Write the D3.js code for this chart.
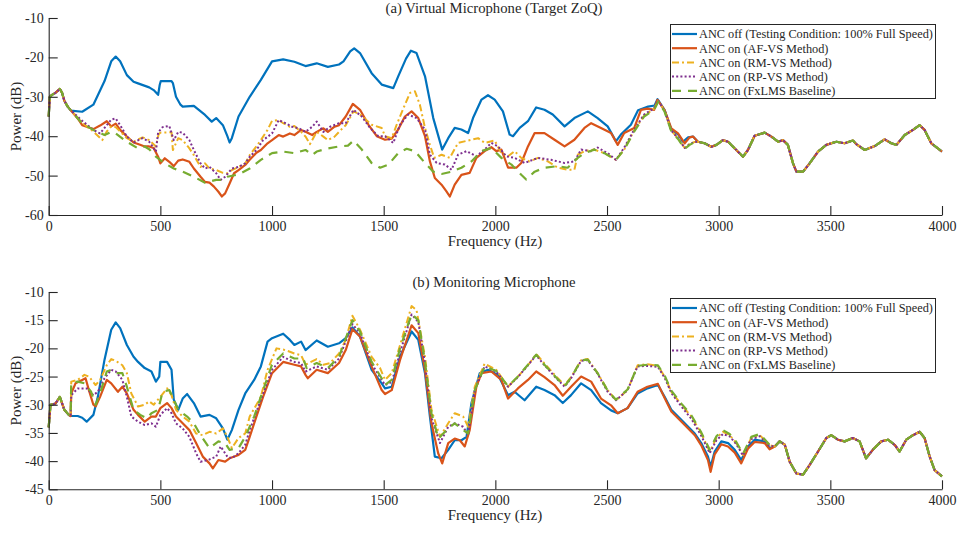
<!DOCTYPE html>
<html><head><meta charset="utf-8">
<script src="https://cdn.jsdelivr.net/npm/d3@7"></script>
<style>body{margin:0;background:#fff}svg{display:block}text{font-family:"Liberation Serif","Times New Roman",serif;fill:#262626}</style>
</head><body><svg id="c" width="958" height="533"></svg>
<script>
const seriesNames = ["ANC off (Testing Condition: 100% Full Speed)","ANC on (AF-VS Method)","ANC on (RM-VS Method)","ANC on (RP-VS Method)","ANC on (FxLMS Baseline)"];
const xTicks = [0,500,1000,1500,2000,2500,3000,3500,4000];
const yTicksTop = [-60,-50,-40,-30,-20,-10];
const yTicksBot = [-45,-40,-35,-30,-25,-20,-15,-10];
const titles = ["(a) Virtual Microphone (Target ZoQ)","(b) Monitoring Microphone"];

// shared low-frequency start
const head = [[0,-35],[5,-30],[15,-29.5],[30,-29],[50,-28],[60,-29],[70,-31],[85,-32.5],[100,-33.5]];
// top panel common tail (all series overlap)
const topTail = [[2907,-41.4],[2937,-41.8],[2967,-42.7],[2990,-42.2],[3019,-41],[3042,-41.4],[3072,-43.1],[3109,-45.2],[3131,-43.5],[3161,-39.9],[3206,-39.1],[3236,-40.1],[3266,-41.4],[3288,-41],[3310,-42.2],[3333,-46.9],[3348,-49],[3378,-49],[3407,-46.9],[3445,-43.9],[3482,-42.2],[3527,-41.4],[3564,-41.8],[3601,-41.1],[3616,-42],[3654,-43.5],[3699,-42.5],[3743,-40.8],[3773,-41.8],[3796,-42.2],[3833,-39.7],[3870,-38.4],[3900,-37.2],[3922,-38.4],[3952,-41.8],[4000,-43.9]];
const topOff = [[150,-33.8],[200,-32],[250,-26],[280,-21],[300,-19.8],[320,-21],[350,-24.5],[380,-26.2],[400,-26.6],[450,-27.6],[470,-28.3],[490,-29.5],[497,-27],[502,-26],[550,-26],[556,-26.5],[570,-30],[590,-32],[600,-32.5],[650,-32.3],[700,-34.6],[730,-36.3],[750,-35.4],[780,-37.2],[800,-40],[810,-41.6],[820,-40.5],[850,-35],[900,-30],[950,-25.7],[1000,-21],[1050,-20.5],[1100,-21.1],[1150,-22.2],[1200,-21.5],[1250,-22.4],[1300,-21.8],[1320,-21],[1350,-18.5],[1368,-17.7],[1394,-18.9],[1446,-24],[1491,-26.9],[1543,-27.8],[1565,-24.8],[1600,-20.3],[1622,-18.3],[1647,-18.9],[1685,-24.8],[1722,-35.4],[1762,-43.4],[1789,-40.5],[1818,-37.9],[1848,-38.3],[1878,-39.2],[1900,-35.4],[1938,-30.7],[1967,-29.6],[1997,-30.7],[2034,-33.7],[2064,-39.6],[2079,-40],[2109,-37.9],[2146,-36.2],[2183,-32.7],[2220,-33.3],[2257,-34.5],[2310,-37.5],[2354,-35.4],[2414,-33.7],[2458,-35.4],[2503,-37.5],[2540,-41.3],[2562,-39.6],[2607,-37.1],[2639,-33.4],[2684,-32.5],[2713,-32.2],[2726,-30.6],[2758,-33.4],[2788,-38.4],[2818,-39.5],[2840,-41.4],[2863,-40.3],[2885,-40.1]];
const topAF = [[130,-35.5],[150,-37.2],[180,-37.8],[200,-38.2],[230,-37.3],[260,-36.2],[280,-37.5],[300,-36.8],[320,-38.4],[350,-40.1],[380,-41.6],[400,-42],[430,-42.6],[450,-42.6],[470,-43],[490,-45.2],[500,-46.9],[520,-45.6],[540,-46.5],[560,-47.6],[580,-46.2],[600,-45.9],[630,-46.5],[650,-48.2],[680,-50.3],[700,-51.6],[720,-51.8],[740,-52.8],[760,-54.1],[775,-55.3],[790,-54.5],[810,-52],[830,-49.4],[850,-48.6],[880,-47.3],[900,-46],[930,-44.2],[950,-43.5],[980,-41.8],[1000,-41],[1030,-39.7],[1050,-40.1],[1080,-39.3],[1100,-39.7],[1130,-38.4],[1150,-38.9],[1180,-39.7],[1200,-38.9],[1230,-38],[1250,-38.9],[1280,-37.6],[1300,-37.2],[1330,-35],[1362,-31.8],[1394,-33.3],[1432,-37.1],[1469,-40],[1506,-40.9],[1536,-40.6],[1565,-38.3],[1595,-35],[1625,-33.7],[1655,-35.4],[1685,-40],[1707,-46.4],[1729,-50.6],[1759,-52.3],[1781,-54],[1796,-55.3],[1818,-52.3],[1848,-49.8],[1885,-49.3],[1915,-45.5],[1952,-43.8],[1982,-42.8],[2004,-43.8],[2027,-43.4],[2057,-48],[2094,-48],[2116,-46.8],[2146,-42.6],[2176,-39.2],[2220,-39.2],[2265,-40.9],[2310,-42.6],[2354,-40.9],[2399,-37.9],[2429,-36.7],[2473,-37.9],[2518,-39.2],[2548,-42.2],[2577,-39.2],[2622,-37.9],[2652,-33.3],[2681,-33],[2711,-33.3],[2726,-30.8],[2758,-33.4],[2788,-38],[2818,-39.3],[2848,-41.8],[2870,-40.3],[2885,-40.1]];
const topRM = [[150,-36.6],[200,-38.8],[240,-41],[260,-38.8],[280,-37.5],[300,-37.7],[320,-38.8],[350,-40.5],[380,-41.4],[420,-40.3],[450,-41],[480,-42.6],[492,-39.5],[500,-39.1],[550,-39],[556,-43.5],[580,-40.5],[600,-41],[630,-43.1],[650,-44.8],[680,-47.8],[700,-46.9],[720,-48.2],[750,-48.6],[780,-49.3],[800,-49.4],[820,-48.6],[850,-47.8],[880,-46.9],[900,-44.8],[930,-42.6],[950,-41],[980,-38.4],[1000,-36.1],[1030,-35.9],[1050,-36.7],[1080,-37.6],[1100,-37.4],[1130,-38.9],[1150,-40.1],[1170,-42],[1200,-38.9],[1230,-40.1],[1250,-41],[1280,-40.1],[1300,-38.9],[1330,-37.2],[1365,-33.7],[1394,-34.5],[1446,-37.1],[1491,-37.9],[1506,-40],[1536,-40.5],[1558,-37.1],[1595,-32],[1618,-29],[1640,-28.6],[1662,-32],[1685,-37.9],[1707,-42.2],[1726,-45.5],[1759,-44.7],[1796,-45.5],[1833,-41.7],[1878,-41.1],[1923,-40.5],[1952,-41.7],[1997,-41.1],[2027,-44.3],[2057,-45.1],[2086,-43.8],[2116,-45.5],[2153,-46.4],[2191,-45.5],[2235,-46.4],[2280,-48],[2324,-48.5],[2354,-48.5],[2369,-44.7],[2399,-43.8],[2443,-43.4],[2488,-44.3],[2540,-46],[2577,-43.4],[2622,-38.5],[2666,-34.8],[2711,-33],[2730,-31],[2758,-33.6],[2788,-38.6],[2818,-40.5],[2848,-43],[2870,-42],[2890,-41.5]];
const topRP = [[150,-36.1],[200,-38.4],[230,-39.3],[260,-37.2],[280,-35.8],[300,-35.5],[320,-37.2],[350,-40.1],[380,-41.6],[420,-40.5],[450,-41.4],[480,-43.9],[490,-39],[510,-37.7],[540,-37.4],[560,-41],[580,-38.9],[600,-39.1],[630,-41],[650,-43.5],[680,-46.9],[700,-48.2],[720,-47.8],[750,-49.4],[770,-51.1],[790,-50.3],[820,-48.2],[850,-47.8],[880,-46.9],[900,-45.2],[930,-43.5],[960,-41],[1000,-39.3],[1030,-35.9],[1060,-36.7],[1090,-37.6],[1120,-38],[1150,-38.9],[1180,-37.6],[1200,-36.3],[1230,-38.9],[1260,-37.6],[1300,-36.7],[1330,-36.7],[1365,-33.3],[1402,-35],[1439,-37.9],[1476,-40],[1506,-40],[1543,-41.7],[1573,-37.1],[1610,-34.5],[1647,-35.4],[1685,-38.3],[1707,-44.7],[1737,-46.8],[1774,-47.2],[1804,-48.5],[1833,-44.7],[1871,-43.8],[1915,-45.1],[1952,-43.4],[1982,-41.7],[2012,-42.6],[2049,-45.1],[2086,-45.5],[2131,-46.8],[2191,-45.5],[2250,-46],[2310,-46.8],[2354,-46.4],[2384,-43.4],[2429,-43.8],[2458,-42.9],[2503,-44.3],[2540,-46],[2577,-42.9],[2622,-38.3],[2666,-34.5],[2711,-32.9],[2730,-31],[2758,-33.6],[2788,-38.6],[2818,-40.5],[2848,-43],[2870,-42],[2890,-41.5]];
const topFx = [[150,-36.8],[200,-38.4],[250,-39.7],[280,-38.9],[300,-39.3],[350,-41.4],[400,-43.1],[430,-42.6],[450,-43.3],[480,-45.2],[520,-46.9],[560,-48.2],[600,-49],[650,-50.3],[700,-51.8],[750,-51.1],[780,-51.1],[800,-50.3],[850,-49.7],[900,-48.2],[950,-46],[1000,-44.3],[1050,-43.9],[1100,-44.3],[1150,-43.5],[1180,-44.8],[1200,-43.9],[1250,-43.1],[1300,-42.6],[1340,-42.4],[1365,-41.1],[1402,-43.4],[1446,-46.8],[1484,-48],[1521,-47.2],[1565,-44.3],[1603,-43.2],[1640,-43.8],[1685,-46.8],[1722,-49],[1759,-49.6],[1804,-49],[1848,-48],[1893,-46.4],[1938,-43.8],[1982,-43],[2027,-45.5],[2072,-47.2],[2116,-49.8],[2138,-51],[2176,-49],[2220,-48],[2280,-47.6],[2324,-48],[2369,-45.5],[2399,-44.3],[2443,-43.4],[2488,-44.3],[2540,-46],[2577,-43.4],[2622,-38.8],[2666,-35],[2711,-33.3],[2730,-31.2],[2758,-33.8],[2788,-38.8],[2818,-40.7],[2848,-43.2],[2870,-42.2],[2890,-41.6]];

// bottom panel
const botHead = [[0,-34],[8,-30],[30,-29.8],[50,-28.6],[70,-30.9],[90,-31.8],[98,-32]];
const botTail = [[3251,-37.4],[3273,-36.5],[3296,-37.1],[3318,-40.1],[3348,-42.2],[3378,-42.4],[3407,-40.7],[3445,-38.3],[3482,-35.9],[3504,-35.4],[3534,-36.2],[3564,-36.5],[3601,-35.9],[3631,-36.5],[3660,-39.5],[3690,-38],[3728,-36.5],[3758,-36.2],[3788,-37.1],[3810,-38.3],[3840,-36.2],[3870,-35.4],[3900,-34.8],[3922,-35.9],[3945,-39.2],[3967,-41.6],[4000,-42.7]];
const botOff = [[130,-32],[150,-32.3],[170,-33],[200,-31.8],[220,-28.6],[250,-22],[280,-16.7],[300,-15.4],[320,-16.4],[350,-19.4],[380,-21.5],[400,-22.4],[430,-23.5],[460,-24.1],[480,-25.9],[495,-25],[500,-22.4],[530,-22.4],[550,-23.8],[560,-29.1],[580,-30.9],[600,-28.9],[620,-28.1],[650,-29.7],[680,-32.1],[720,-31.8],[750,-32.4],[780,-34.2],[800,-36.2],[820,-34.5],[850,-30.9],[880,-28],[920,-25.6],[950,-23.2],[980,-18.8],[1000,-18.2],[1050,-17.4],[1080,-18.5],[1100,-19.4],[1130,-18.8],[1150,-20.3],[1200,-18.6],[1250,-19.7],[1300,-19.1],[1330,-18.2],[1360,-16.3],[1394,-17.9],[1446,-23.8],[1491,-26.2],[1506,-27.1],[1536,-26.8],[1573,-21.5],[1625,-17],[1655,-18.5],[1685,-24.4],[1707,-32.1],[1729,-39.2],[1759,-39.5],[1789,-38],[1818,-36.3],[1848,-36.3],[1871,-35.7],[1893,-29.7],[1930,-24.4],[1967,-23.8],[2012,-24.7],[2057,-28.3],[2086,-27.7],[2131,-29.2],[2183,-26.8],[2220,-27.4],[2265,-28.3],[2302,-29.7],[2339,-28.3],[2384,-26.2],[2429,-27.4],[2473,-29.7],[2518,-31],[2548,-31.5],[2592,-30.6],[2637,-28],[2681,-27.1],[2728,-26.5],[2758,-28.6],[2788,-30.9],[2848,-33.3],[2893,-35.1],[2922,-36.8],[2952,-39.2],[2964,-41],[2982,-38.3],[3012,-36.5],[3042,-36.8],[3072,-38],[3101,-39.8],[3131,-37.4],[3161,-36.2],[3206,-36.5],[3228,-37.7]];
const botAF = [[101,-28],[120,-26.2],[150,-25.6],[165,-25.3],[180,-27.4],[200,-30],[210,-30.3],[230,-28.6],[260,-25.6],[280,-26.2],[310,-27.7],[330,-26.8],[350,-28],[380,-30.9],[400,-31.8],[430,-33],[460,-32.1],[480,-32.1],[500,-30.6],[530,-29.7],[550,-30.6],[570,-32.1],[600,-33.3],[630,-34.5],[660,-36.8],[690,-39.2],[720,-40.4],[735,-41.3],[760,-39.8],[790,-40.1],[810,-39.5],[850,-38.9],[880,-38],[900,-35.7],[930,-32.1],[960,-28.6],[1000,-24.4],[1050,-22.4],[1100,-22.9],[1130,-23.2],[1150,-24.7],[1160,-25.3],[1200,-23.8],[1250,-24.4],[1300,-22.6],[1330,-20.3],[1360,-16.6],[1394,-17.9],[1446,-23.2],[1491,-27.4],[1506,-28.1],[1536,-27.4],[1573,-22.1],[1625,-15.9],[1655,-17.3],[1685,-23.8],[1714,-33.3],[1744,-38.6],[1762,-40.4],[1789,-36.8],[1818,-36],[1841,-36.3],[1863,-37.4],[1885,-34.5],[1915,-26.8],[1938,-24.4],[1982,-24.1],[2027,-25.6],[2057,-28.9],[2101,-27.1],[2146,-25.6],[2183,-24.1],[2220,-25.1],[2265,-26.5],[2302,-28.4],[2339,-26.8],[2384,-25],[2429,-25.9],[2473,-28.9],[2518,-30.1],[2548,-31.5],[2592,-30.6],[2637,-27.7],[2681,-26.8],[2728,-26.3],[2758,-28.8],[2788,-31.2],[2848,-33.6],[2893,-35.4],[2922,-37.2],[2952,-39.8],[2964,-41.9],[2982,-38.8],[3012,-37],[3042,-37.4],[3072,-38.5],[3101,-40.4],[3131,-37.8],[3161,-36.6],[3206,-36.8],[3228,-37.9]];
const botRM = [[101,-25.9],[130,-25.6],[160,-24.7],[180,-25],[210,-26.5],[230,-25.6],[260,-23],[280,-21.9],[300,-22.2],[330,-23],[350,-24.4],[370,-28],[400,-30.3],[430,-30],[450,-29.4],[470,-30],[500,-28.6],[530,-27.1],[550,-28.3],[570,-30.9],[600,-32.1],[630,-33],[660,-35.1],[690,-35.4],[720,-34.8],[750,-35.1],[780,-34.2],[800,-35.7],[820,-37.7],[850,-35.9],[880,-35.1],[900,-32.1],[950,-28.6],[980,-23.8],[1020,-20],[1050,-20.2],[1080,-20.6],[1100,-20.9],[1130,-21.2],[1150,-22.9],[1200,-21.9],[1230,-22.9],[1260,-22.6],[1300,-20.9],[1330,-18.5],[1360,-14.2],[1394,-16.7],[1446,-21.5],[1484,-23.5],[1506,-25.6],[1536,-24.4],[1580,-18.5],[1625,-12.5],[1647,-13.2],[1685,-21.5],[1714,-30.9],[1752,-35.7],[1789,-33.3],[1818,-31.5],[1856,-32.1],[1878,-33.9],[1908,-26.8],[1952,-22.7],[2004,-23.8],[2057,-26.8],[2101,-25],[2146,-23],[2183,-21],[2220,-22.7],[2280,-25.3],[2310,-26.5],[2339,-25.1],[2384,-22.1],[2414,-21.9],[2458,-24.4],[2503,-27.4],[2540,-29.2],[2592,-27.4],[2637,-23],[2681,-22.8],[2728,-23.1],[2758,-25],[2788,-27.7],[2833,-30],[2878,-32.1],[2922,-35.1],[2960,-38.3],[2990,-35.9],[3019,-34.8],[3049,-35.4],[3079,-36.8],[3109,-38.9],[3146,-35.9],[3184,-35.4],[3228,-37.2]];
const botRP = [[101,-28.3],[130,-27.1],[170,-27.1],[200,-28.3],[220,-27.7],[250,-25.3],[280,-23.8],[300,-24.1],[330,-25.6],[350,-28.6],[370,-32.1],[400,-33],[430,-33.6],[460,-33.3],[480,-33.9],[500,-31.8],[530,-30.6],[550,-31.5],[570,-33.3],[600,-34.2],[630,-35.7],[660,-38.6],[680,-40.1],[720,-39.7],[750,-39.2],[770,-37.4],[800,-39.2],[820,-39.5],[850,-38.6],[880,-37.1],[900,-34.5],[950,-29.1],[1000,-23.8],[1050,-21.5],[1080,-22.1],[1100,-22.4],[1130,-22.6],[1150,-24.1],[1200,-23.2],[1250,-23.8],[1300,-21.8],[1360,-15.7],[1394,-17.3],[1446,-22.7],[1491,-25.6],[1506,-26.5],[1536,-26],[1573,-20.8],[1625,-14],[1655,-15.3],[1685,-22.7],[1714,-32.4],[1752,-36.8],[1789,-33.9],[1818,-33.3],[1856,-33.9],[1878,-35.4],[1908,-27.4],[1952,-23.2],[2004,-24.1],[2057,-26.8],[2101,-25.1],[2146,-23],[2183,-21.2],[2220,-23],[2280,-25.6],[2310,-26.8],[2339,-25.3],[2384,-22.2],[2414,-22.1],[2458,-24.5],[2503,-27.7],[2540,-29.2],[2592,-27.4],[2637,-23.2],[2681,-23.1],[2728,-23.3],[2758,-25.2],[2788,-27.9],[2833,-30.3],[2878,-32.5],[2922,-35.5],[2960,-38.6],[2990,-36.3],[3019,-35.2],[3049,-35.6],[3079,-37],[3109,-39],[3146,-36.1],[3184,-35.6],[3228,-37.3]];
const botFx = [[101,-26.1],[130,-25.9],[160,-26.2],[190,-27.7],[210,-30],[230,-28],[260,-24.1],[280,-23.8],[300,-24.4],[330,-24.4],[350,-26.8],[380,-30.9],[410,-31.8],[440,-32.4],[460,-31.5],[490,-30.9],[510,-27.7],[540,-27.4],[555,-28.6],[580,-30.9],[620,-32.1],[650,-33.3],[680,-35.4],[720,-37.7],[760,-36.5],[790,-36.8],[810,-38],[850,-37.7],[880,-35.7],[920,-32.1],[960,-27.4],[1000,-22.9],[1050,-20.9],[1100,-21.8],[1140,-21.8],[1155,-23.5],[1200,-22.6],[1250,-23.5],[1300,-21.5],[1360,-15],[1394,-17],[1446,-22.4],[1491,-25.3],[1506,-26.5],[1536,-25.6],[1573,-20],[1625,-13.9],[1655,-15],[1685,-22.4],[1714,-31.5],[1745,-36],[1789,-34.2],[1818,-33.3],[1856,-34.5],[1878,-35.1],[1908,-27.4],[1952,-23.2],[2004,-24],[2057,-26.7],[2101,-25],[2146,-22.9],[2183,-21.1],[2220,-22.9],[2280,-25.5],[2310,-26.7],[2339,-25.2],[2384,-22.1],[2414,-22],[2458,-24.4],[2503,-27.5],[2540,-29.1],[2592,-27.3],[2637,-23.1],[2681,-22.9],[2728,-23],[2758,-24.8],[2788,-27.5],[2833,-29.8],[2878,-31.9],[2922,-34.9],[2960,-38],[2990,-35.6],[3019,-34.5],[3049,-35.2],[3079,-36.6],[3109,-38.7],[3146,-35.7],[3184,-35.2],[3228,-37.1]];

const colors = ["#0072BD","#D95319","#EDB120","#7E2F8E","#77AC30"];
const dashes = [null,null,"7,3,2,3","2,2.2","9,7"];
const widths = [2.2,2.2,2,2,2.2];

const svg = d3.select("#c");
const x = d3.scaleLinear().domain([0,4000]).range([48.7,942]);

function panel(p){
  const y = d3.scaleLinear().domain(p.dom).range([p.bottom,p.top]);
  const g = svg.append("g");
  const line = d3.line().x(d=>x(d[0])).y(d=>y(d[1]));
  p.series.forEach((s,i)=>{
    g.append("path").datum(s).attr("d",line).attr("fill","none")
      .attr("stroke",colors[i]).attr("stroke-width",widths[i])
      .attr("stroke-dasharray",dashes[i]).attr("stroke-linejoin","round");
  });
  const ax = g.append("g").attr("transform",`translate(0,${p.bottom})`)
    .call(d3.axisBottom(x).tickValues(xTicks).tickFormat(d3.format("d")).tickSizeInner(-9).tickSizeOuter(0).tickPadding(6));
  const ay = g.append("g").attr("transform",`translate(${x(0)},0)`)
    .call(d3.axisLeft(y).tickValues(p.ticks).tickFormat(d=>String(d)).tickSizeInner(-9).tickSizeOuter(0).tickPadding(5));
  [ax,ay].forEach(a=>{a.selectAll("path,line").attr("stroke","#262626").attr("stroke-width",1.1);
    a.selectAll("text").attr("font-size",14).attr("font-family","Liberation Serif").attr("fill","#262626");});
  g.append("text").attr("x",494).attr("y",p.top-5).attr("text-anchor","middle").attr("font-size",14.7).text(p.title);
  g.append("text").attr("x",495).attr("y",p.bottom+31).attr("text-anchor","middle").attr("font-size",15).text("Frequency (Hz)");
  g.append("text").attr("transform",`translate(21,${(p.top+p.bottom)/2}) rotate(-90)`).attr("text-anchor","middle").attr("font-size",15).text("Power (dB)");
  // legend
  const lg = g.append("g");
  lg.append("rect").attr("x",670.5).attr("y",p.legTop+0.5).attr("width",265).attr("height",74).attr("fill","#fff").attr("stroke","#262626").attr("stroke-width",1);
  seriesNames.forEach((n,i)=>{
    const yy = p.legTop+10+i*14.2;
    lg.append("line").attr("x1",672).attr("x2",697).attr("y1",yy).attr("y2",yy)
      .attr("stroke",colors[i]).attr("stroke-width",widths[i]).attr("stroke-dasharray",dashes[i]);
    lg.append("text").attr("x",699).attr("y",yy).attr("dy","0.35em").attr("font-size",12.3).text(n);
  });
}
panel({dom:[-60,-10],top:18,bottom:215,ticks:yTicksTop,title:titles[0],legTop:24,
  series:[head.concat(topOff,topTail),head.concat(topAF,topTail),head.concat(topRM,topTail),head.concat(topRP,topTail),head.concat(topFx,topTail)]});
panel({dom:[-45,-10],top:292,bottom:489.3,ticks:yTicksBot,title:titles[1],legTop:298,
  series:[botHead.concat(botOff,botTail),botHead.concat(botAF,botTail),botHead.concat(botRM,botTail),botHead.concat(botRP,botTail),botHead.concat(botFx,botTail)]});
</script></body></html>
